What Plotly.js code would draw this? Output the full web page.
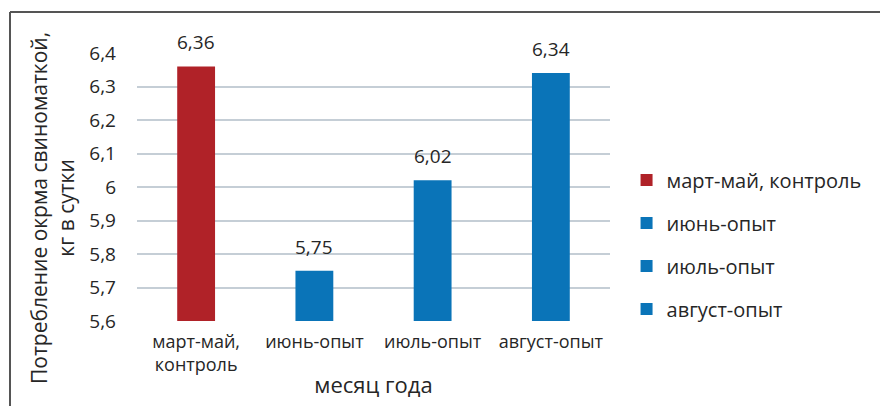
<!DOCTYPE html>
<html>
<head>
<meta charset="utf-8">
<script src="https://cdn.plot.ly/plotly-3.0.1.min.js"></script>
<style>html,body{margin:0;padding:0;background:#fff;}#chart{width:880px;height:406px;}</style>
</head>
<body>
<div id="chart"></div>
<script>
const categories = ["март-май,<br>контроль", "июнь-опыт", "июль-опыт", "август-опыт"];
const seriesNames = ["март-май, контроль", "июнь-опыт", "июль-опыт", "август-опыт"];
const values = [6.36, 5.75, 6.02, 6.34];
const colors = ["#b02228", "#0a74b8", "#0a74b8", "#0a74b8"];
const yTicks = [5.6, 5.7, 5.8, 5.9, 6.0, 6.1, 6.2, 6.3, 6.4];

const traces = categories.map((c, i) => ({
  type: 'bar',
  name: seriesNames[i],
  x: [c],
  y: [values[i]],
  marker: {color: colors[i]},
  legendgroup: 'g' + i,
  hoverinfo: 'skip'
}));

const valueLabels = categories.map((c, i) => ({
  x: c, y: values[i], xref: 'x', yref: 'y',
  text: values[i].toFixed(2).replace('.', ','),
  showarrow: false, yanchor: 'middle', yshift: 24,
  font: {family: 'Open Sans', size: 19, color: '#262626'}
}));

const layout = {
  width: 880, height: 406,
  margin: {l: 137, r: 270, t: 53, b: 85},
  paper_bgcolor: '#fff', plot_bgcolor: '#fff',
  separators: ', ',
  barmode: 'overlay',
  bargap: 0.68,
  showlegend: true,
  legend: {
    x: 1.035, xanchor: 'left', y: 0.285, yanchor: 'middle',
    font: {family: 'Open Sans', size: 20, color: '#262626'},
    tracegroupgap: 14,
    traceorder: 'grouped',
    itemwidth: 30
  },
  xaxis: {
    type: 'category',
    tickfont: {family: 'Open Sans', size: 18, color: '#262626'},
    showline: false, showgrid: false, ticks: '',
    ticklabelstandoff: 8,
    title: {text: 'месяц года', font: {family: 'Open Sans', size: 22, color: '#262626'}, standoff: 2}
  },
  yaxis: {
    range: [5.6, 6.4],
    tickvals: yTicks,
    tickfont: {family: 'Open Sans', size: 19, color: '#262626'},
    showgrid: true, gridcolor: '#c5ced6', gridwidth: 2,
    zeroline: false, showline: false, ticks: '',
    ticklabelstandoff: 20
  },
  annotations: valueLabels.concat([{
    text: 'Потребление окрма свиноматкой,<br>кг в сутки',
    xref: 'paper', yref: 'paper', x: (52-137)/473, y: (321-208)/268,
    xanchor: 'center', yanchor: 'middle', textangle: -90, showarrow: false,
    font: {family: 'Open Sans', size: 21, color: '#262626'}
  }]),
  shapes: [
    {type: 'line', xref: 'paper', yref: 'paper', x0: (10-137)/473, x1: (880-137)/473, y0: (321-12)/268, y1: (321-12)/268, line: {color: '#555', width: 2}},
    {type: 'line', xref: 'paper', yref: 'paper', x0: (10-137)/473, x1: (10-137)/473, y0: (321-12)/268, y1: (321-406)/268, line: {color: '#555', width: 2}}
  ]
};

Plotly.newPlot('chart', traces, layout, {displayModeBar: false, staticPlot: true});
</script>
</body>
</html>
